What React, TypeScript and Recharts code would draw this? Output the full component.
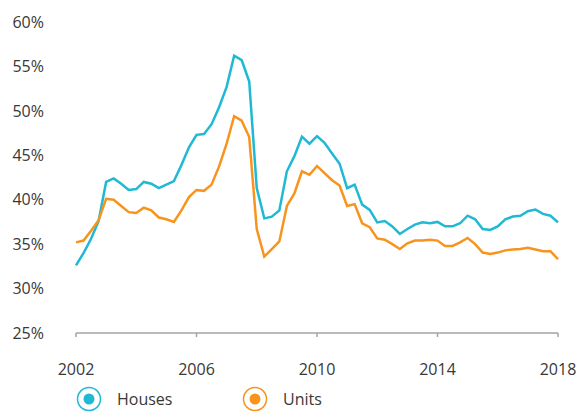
import { Legend, Line, LineChart, XAxis, YAxis } from "recharts";

const HOUSES = [
  32.6, 34.0, 35.6, 37.6, 42.0, 42.4, 41.8, 41.1, 41.2, 42.0, 41.8, 41.3, 41.7,
  42.1, 43.9, 45.9, 47.3, 47.4, 48.5, 50.4, 52.7, 56.2, 55.7, 53.3, 41.3, 37.9,
  38.1, 38.8, 43.2, 44.9, 47.1, 46.3, 47.15, 46.4, 45.2, 44.05, 41.3, 41.7,
  39.45, 38.85, 37.45, 37.6, 37.0, 36.15, 36.7, 37.2, 37.45, 37.35, 37.5, 37.0,
  37.0, 37.35, 38.2, 37.8, 36.7, 36.6, 37.0, 37.8, 38.1, 38.2, 38.7, 38.9, 38.4,
  38.2, 37.45,
];

const UNITS = [
  35.2, 35.4, 36.5, 37.7, 40.1, 40.0, 39.3, 38.6, 38.5, 39.1, 38.8, 38.0, 37.8,
  37.5, 38.8, 40.3, 41.1, 41.0, 41.7, 43.75, 46.3, 49.4, 48.9, 47.05, 36.7, 33.6,
  34.45, 35.3, 39.3, 40.7, 43.2, 42.8, 43.8, 43.0, 42.2, 41.6, 39.3, 39.5, 37.35,
  36.9, 35.65, 35.5, 35.0, 34.45, 35.1, 35.4, 35.4, 35.5, 35.4, 34.8, 34.8, 35.2,
  35.7, 35.0, 34.05, 33.9, 34.05, 34.3, 34.4, 34.45, 34.6, 34.4, 34.2, 34.2, 33.3,
];

const YEAR_TICKS = [2002, 2006, 2010, 2014, 2018];
const PCT_TICKS = [25, 30, 35, 40, 45, 50, 55, 60];

const SERIES = [
  { key: "houses", name: "Houses", color: "#1fb9d3" },
  { key: "units", name: "Units", color: "#f7941e" },
];

const FONT = "'Open Sans', 'Noto Sans', sans-serif";
const TEXT = "#383838";
const AXIS = "#a3a3a3";

// quarterly points, first quarter of 2002 to first quarter of 2018
const data = HOUSES.map((h, i) => ({
  year: 2002 + i / 4,
  houses: h,
  units: UNITS[i],
}));

function LegendContent() {
  return (
    <div style={{ display: "flex", height: 26, paddingLeft: 60, fontFamily: FONT }}>
      {SERIES.map((s) => (
        <div key={s.key} style={{ display: "flex", alignItems: "center", width: 166 }}>
          <svg width={26} height={26}>
            <circle cx={13} cy={13} r={11.5} fill="#fff" stroke={s.color} strokeWidth={1.5} />
            <circle cx={13} cy={13} r={5.5} fill={s.color} />
          </svg>
          <span style={{ marginLeft: 15, fontSize: 16, color: TEXT }}>{s.name}</span>
        </div>
      ))}
    </div>
  );
}

export default function App() {
  return (
    <LineChart
      width={570}
      height={404}
      data={data}
      margin={{ top: 14, right: 20, left: 8, bottom: 0 }}
      style={{ fontFamily: FONT }}
    >
      <XAxis
        dataKey="year"
        type="number"
        domain={[2002, 2018]}
        ticks={YEAR_TICKS}
        stroke={AXIS}
        strokeWidth={1.5}
        tickSize={4}
        tickMargin={27}
        height={53}
        tick={{ fill: TEXT, fontSize: 16 }}
      />
      <YAxis
        domain={[25, 60]}
        ticks={PCT_TICKS}
        axisLine={false}
        tickLine={false}
        tickSize={0}
        tickMargin={32}
        width={60}
        tick={{ fill: TEXT, fontSize: 16 }}
        tickFormatter={(v) => `${v}%`}
      />
      <Legend verticalAlign="bottom" height={26} content={() => <LegendContent />} />
      {SERIES.map((s) => (
        <Line
          key={s.key}
          type="linear"
          dataKey={s.key}
          name={s.name}
          stroke={s.color}
          strokeWidth={2.5}
          dot={false}
          isAnimationActive={false}
        />
      ))}
    </LineChart>
  );
}
